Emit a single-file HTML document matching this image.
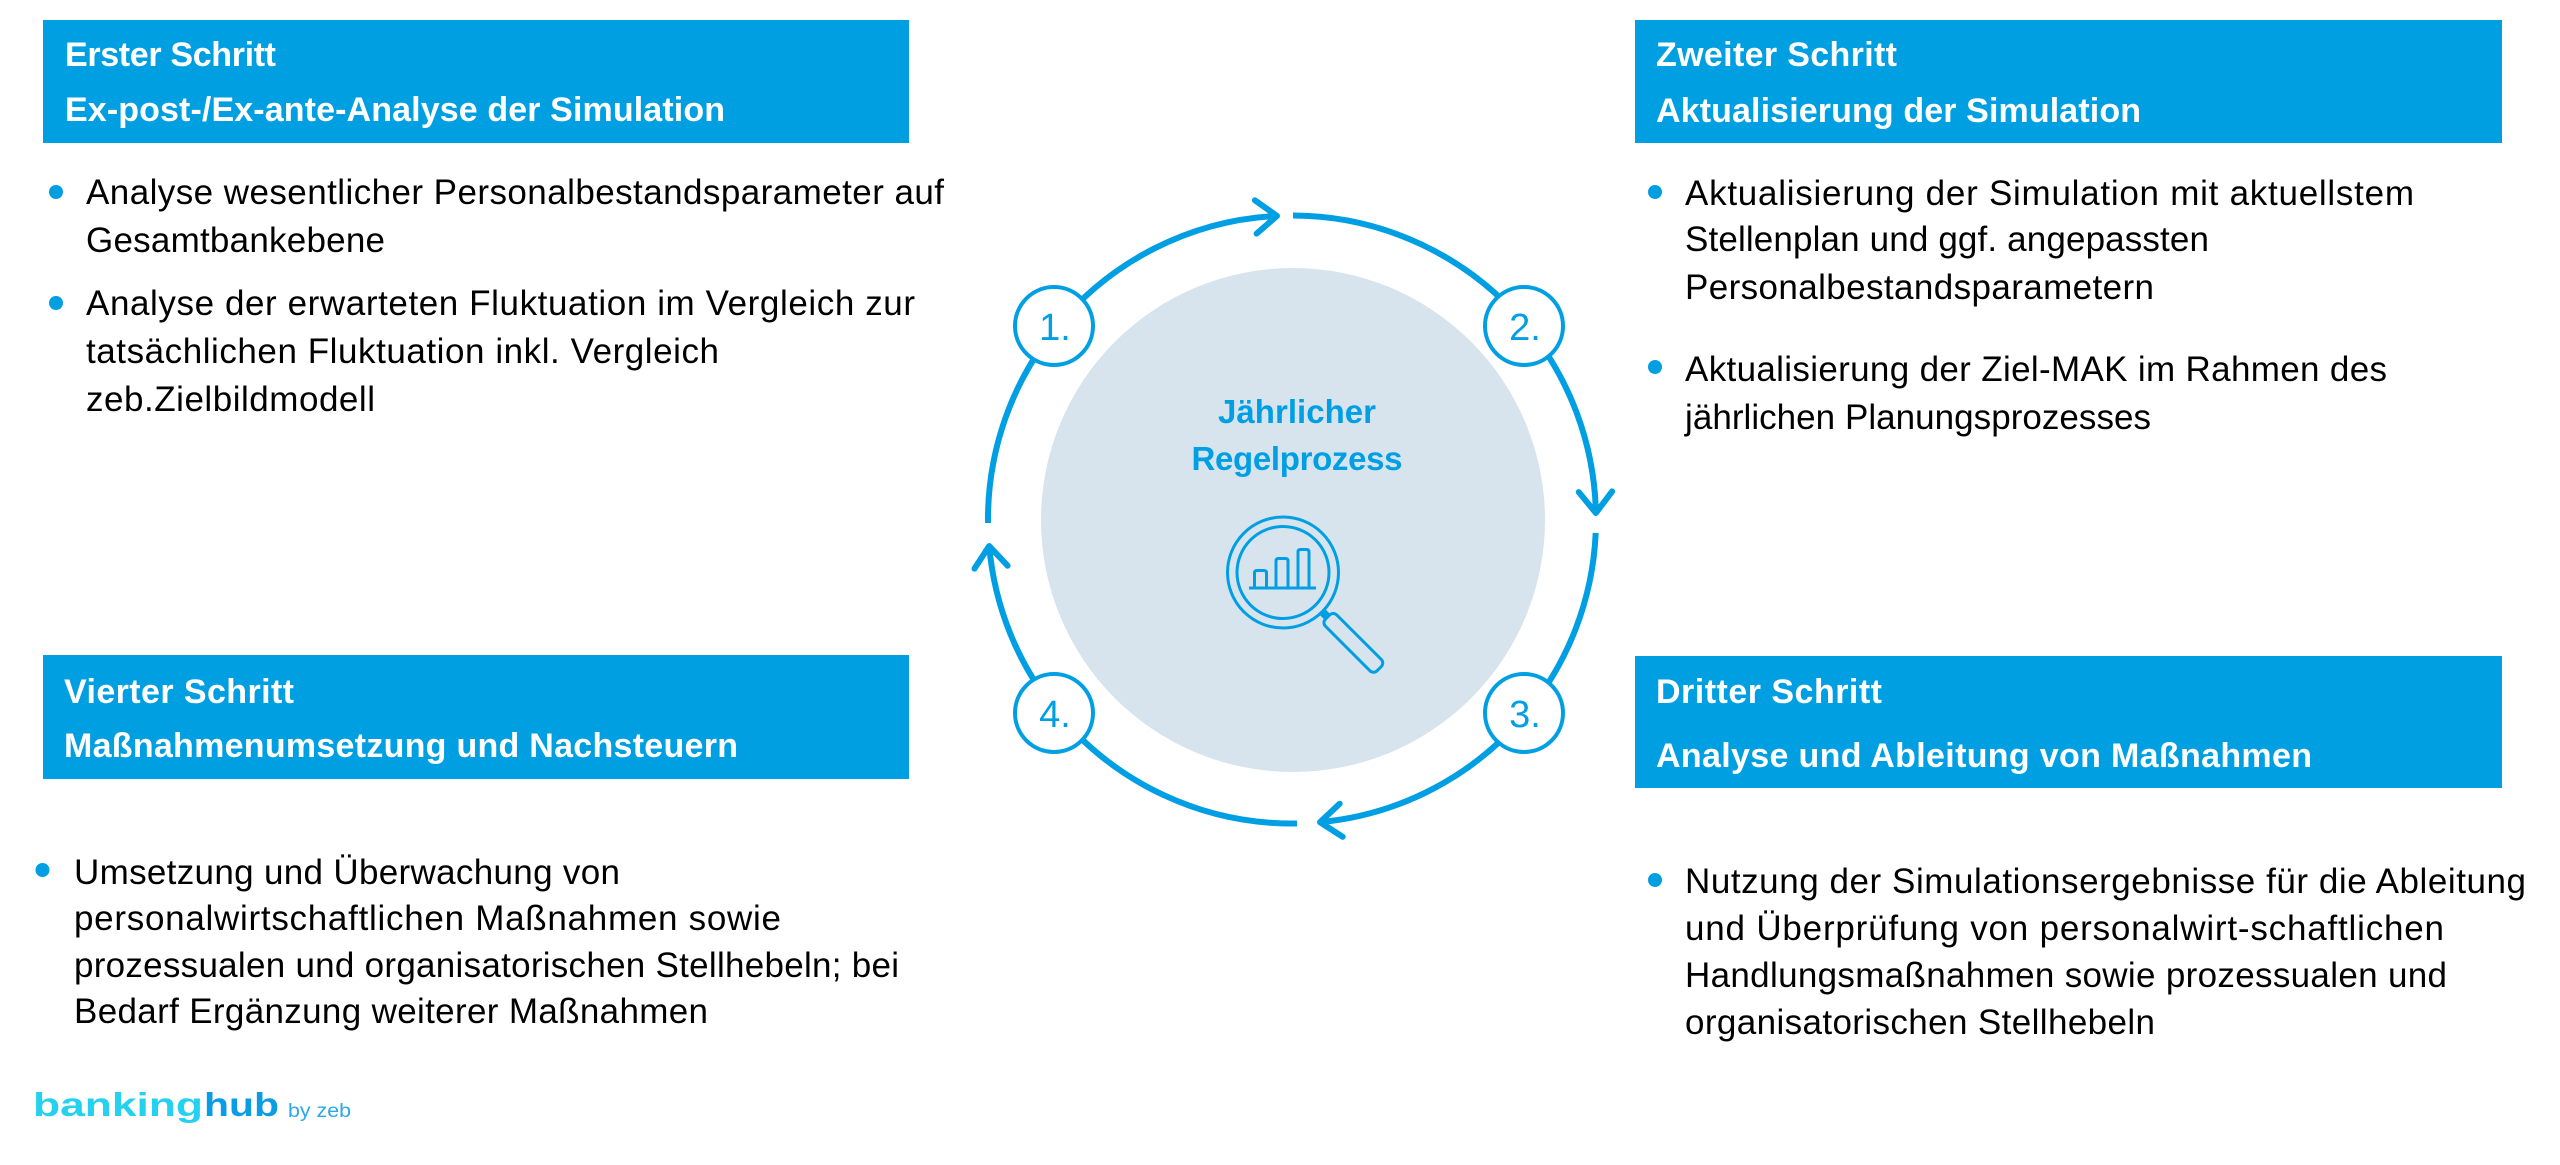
<!DOCTYPE html>
<html lang="de">
<head>
<meta charset="utf-8">
<title>Jährlicher Regelprozess</title>
<style>
  html, body { margin: 0; padding: 0; background: #ffffff; }
  body { width: 2560px; height: 1165px; overflow: hidden; }
  svg { display: block; }
  text { font-family: "Liberation Sans", Arial, sans-serif; }
  .h { fill: #ffffff; font-weight: bold; font-size: 34px; }
  .b { fill: #000000; font-size: 35px; }
  .n { fill: #009fe3; font-size: 38px; }
</style>
</head>
<body>
<svg width="2560" height="1165" viewBox="0 0 2560 1165" xmlns="http://www.w3.org/2000/svg">
  <rect x="0" y="0" width="2560" height="1165" fill="#ffffff"/>

  <!-- ===== Box 1 ===== -->
  <rect x="43" y="20" width="866" height="123" fill="#009fe2"/>
  <text class="h" x="65" y="66" textLength="211" lengthAdjust="spacing">Erster Schritt</text>
  <text class="h" x="65" y="121" textLength="660" lengthAdjust="spacing">Ex-post-/Ex-ante-Analyse der Simulation</text>
  <circle cx="56" cy="192" r="7" fill="#009fe2"/>
  <circle cx="56" cy="303" r="7" fill="#009fe2"/>
  <text class="b" x="86" y="204" textLength="858" lengthAdjust="spacing">Analyse wesentlicher Personalbestandsparameter auf</text>
  <text class="b" x="86" y="252" textLength="299" lengthAdjust="spacing">Gesamtbankebene</text>
  <text class="b" x="86" y="315" textLength="829" lengthAdjust="spacing">Analyse der erwarteten Fluktuation im Vergleich zur</text>
  <text class="b" x="86" y="363" textLength="633" lengthAdjust="spacing">tatsächlichen Fluktuation inkl. Vergleich</text>
  <text class="b" x="86" y="411" textLength="289" lengthAdjust="spacing">zeb.Zielbildmodell</text>

  <!-- ===== Box 2 ===== -->
  <rect x="1635" y="20" width="867" height="123" fill="#009fe2"/>
  <text class="h" x="1656" y="66" textLength="241" lengthAdjust="spacing">Zweiter Schritt</text>
  <text class="h" x="1656" y="122" textLength="485" lengthAdjust="spacing">Aktualisierung der Simulation</text>
  <circle cx="1655" cy="192" r="7" fill="#009fe2"/>
  <circle cx="1655" cy="367" r="7" fill="#009fe2"/>
  <text class="b" x="1685" y="205" textLength="729" lengthAdjust="spacing">Aktualisierung der Simulation mit aktuellstem</text>
  <text class="b" x="1685" y="251" textLength="524" lengthAdjust="spacing">Stellenplan und ggf. angepassten</text>
  <text class="b" x="1685" y="299" textLength="469" lengthAdjust="spacing">Personalbestandsparametern</text>
  <text class="b" x="1685" y="381" textLength="702" lengthAdjust="spacing">Aktualisierung der Ziel-MAK im Rahmen des</text>
  <text class="b" x="1685" y="429" textLength="466" lengthAdjust="spacing">jährlichen Planungsprozesses</text>

  <!-- ===== Box 3 ===== -->
  <rect x="1635" y="656" width="867" height="132" fill="#009fe2"/>
  <text class="h" x="1656" y="703" textLength="226" lengthAdjust="spacing">Dritter Schritt</text>
  <text class="h" x="1656" y="767" textLength="656" lengthAdjust="spacing">Analyse und Ableitung von Maßnahmen</text>
  <circle cx="1655" cy="880" r="7" fill="#009fe2"/>
  <text class="b" x="1685" y="893" textLength="841" lengthAdjust="spacing">Nutzung der Simulationsergebnisse für die Ableitung</text>
  <text class="b" x="1685" y="940" textLength="759" lengthAdjust="spacing">und Überprüfung von personalwirt-schaftlichen</text>
  <text class="b" x="1685" y="987" textLength="762" lengthAdjust="spacing">Handlungsmaßnahmen sowie prozessualen und</text>
  <text class="b" x="1685" y="1034" textLength="470" lengthAdjust="spacing">organisatorischen Stellhebeln</text>

  <!-- ===== Box 4 ===== -->
  <rect x="43" y="655" width="866" height="124" fill="#009fe2"/>
  <text class="h" x="64" y="703" textLength="230" lengthAdjust="spacing">Vierter Schritt</text>
  <text class="h" x="64" y="757" textLength="674" lengthAdjust="spacing">Maßnahmenumsetzung und Nachsteuern</text>
  <circle cx="42.5" cy="870" r="7" fill="#009fe2"/>
  <text class="b" x="74" y="884" textLength="546" lengthAdjust="spacing">Umsetzung und Überwachung von</text>
  <text class="b" x="74" y="930" textLength="707" lengthAdjust="spacing">personalwirtschaftlichen Maßnahmen sowie</text>
  <text class="b" x="74" y="977" textLength="825" lengthAdjust="spacing">prozessualen und organisatorischen Stellhebeln; bei</text>
  <text class="b" x="74" y="1023" textLength="634" lengthAdjust="spacing">Bedarf Ergänzung weiterer Maßnahmen</text>

  <!-- ===== Central cycle ===== -->
  <circle cx="1293" cy="520" r="252" fill="#d7e4ed"/>

  <g fill="none" stroke="#009fe3" stroke-width="6" stroke-linecap="butt">
    <path d="M1056.1 327.8 A304 304 0 0 1 1277 215.9"/>
    <path d="M1293 215.5 A304 304 0 0 1 1525.6 324.9"/>
    <path d="M1525.6 324.9 A304 304 0 0 1 1595.9 513"/>
    <path d="M1595.7 533 A304 304 0 0 1 1525.6 714.1"/>
    <path d="M1525.6 714.1 A304 304 0 0 1 1320 822.2"/>
    <path d="M1297 823.5 A304 304 0 0 1 1056.1 711.2"/>
    <path d="M1056.1 711.2 A304 304 0 0 1 989.2 546"/>
    <path d="M988 523 A304 304 0 0 1 1056.1 327.8"/>
  </g>
  <g fill="none" stroke="#009fe3" stroke-width="6" stroke-linecap="round" stroke-linejoin="round">
    <polyline points="1254.9,200.3 1277,215.9 1256.6,233.6"/>
    <polyline points="1612.1,491.4 1595.9,513 1578.8,492.1"/>
    <polyline points="1342.7,836.8 1320,822.2 1339.7,803.7"/>
    <polyline points="974.5,568.6 989.2,546 1007.6,565.7"/>
  </g>

  <!-- number circles -->
  <g fill="#ffffff" stroke="#009fe3" stroke-width="4">
    <circle cx="1054" cy="326" r="39"/>
    <circle cx="1524" cy="326" r="39"/>
    <circle cx="1524" cy="713" r="39"/>
    <circle cx="1054" cy="713" r="39"/>
  </g>
  <text class="n" x="1055" y="340" text-anchor="middle">1.</text>
  <text class="n" x="1525" y="340" text-anchor="middle">2.</text>
  <text class="n" x="1525" y="727" text-anchor="middle">3.</text>
  <text class="n" x="1055" y="727" text-anchor="middle">4.</text>

  <!-- center title -->
  <text x="1297" y="423" text-anchor="middle" fill="#009fe3" font-weight="bold" font-size="33" textLength="158" lengthAdjust="spacing">Jährlicher</text>
  <text x="1297" y="470" text-anchor="middle" fill="#009fe3" font-weight="bold" font-size="33" textLength="211" lengthAdjust="spacing">Regelprozess</text>

  <!-- magnifier icon -->
  <g fill="none" stroke="#009fe3" stroke-width="3" stroke-linejoin="round">
    <circle cx="1283" cy="572.5" r="55.5"/>
    <circle cx="1283" cy="572.5" r="46"/>
    <line x1="1249" y1="588" x2="1316" y2="588"/>
    <path d="M1254.5 588 V573 Q1254.5 570.5 1257 570.5 H1264 Q1266.5 570.5 1266.5 573 V588"/>
    <path d="M1276 588 V561 Q1276 558.5 1278.5 558.5 H1285.5 Q1288 558.5 1288 561 V588"/>
    <path d="M1298 588 V552 Q1298 549.5 1300.5 549.5 H1306.5 Q1309 549.5 1309 552 V588"/>
    <g transform="translate(1283 572.5) rotate(45)">
      <rect x="63" y="-8" width="73" height="16" rx="5" ry="5"/>
      <rect x="55" y="-4" width="8" height="8" fill="#009fe3" stroke="none"/>
    </g>
  </g>

  <!-- logo -->
  <text x="33" y="1116" font-weight="bold" font-size="33" fill="#24d2ef" textLength="170" lengthAdjust="spacingAndGlyphs">banking</text>
  <text x="204" y="1116" font-weight="bold" font-size="33" fill="#0b9de3" textLength="75" lengthAdjust="spacingAndGlyphs">hub</text>
  <text x="288" y="1117" font-size="19" fill="#2aa8e8" textLength="63" lengthAdjust="spacingAndGlyphs">by zeb</text>
</svg>
</body>
</html>
